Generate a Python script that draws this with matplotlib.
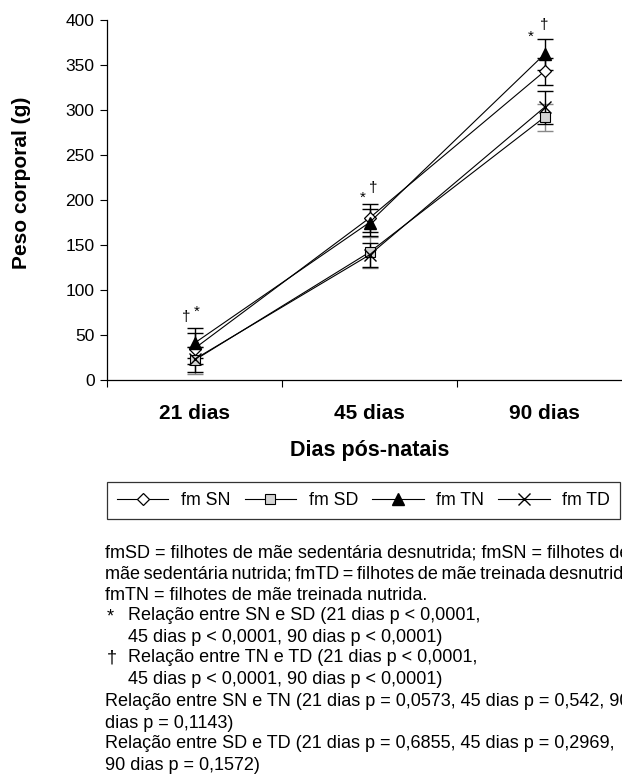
import matplotlib
matplotlib.use("Agg")
import matplotlib.pyplot as plt

plt.rcParams['font.family'] = ['Liberation Sans', 'DejaVu Sans']

# data
days = ["21 dias", "45 dias", "90 dias"]
sn_mean = [35, 180, 343]
sn_err = [17, 16, 15]
sd_mean = [22, 142, 292]
sd_err = [15, 17, 15]
tn_mean = [41, 175, 362]
tn_err = [17, 15, 17]
td_mean = [23, 139, 303]
td_err = [14, 13, 18]
series_names = ["fm SN", "fm SD", "fm TN", "fm TD"]

# significance marks (symbol, x, y)
marks = [("†", -0.05, 70), ("*", 0.01, 76),
         ("*", 0.96, 203), ("†", 1.02, 213),
         ("*", 1.92, 381), ("†", 2.0, 394)]

notes = [
    (105, 553, "fmSD = filhotes de mãe sedentária desnutrida; fmSN = filhotes de"),
    (105, 574, "mãe\u2009sedentária\u2009nutrida;\u2009fmTD\u2009=\u2009filhotes\u2009de\u2009mãe\u2009treinada\u2009desnutrida;"),
    (105, 595, "fmTN = filhotes de mãe treinada nutrida."),
    (107, 617, "*"),
    (128, 616, "Relação entre SN e SD (21 dias p < 0,0001,"),
    (128, 637, "45 dias p < 0,0001, 90 dias p < 0,0001)"),
    (107, 658, "†"),
    (128, 658, "Relação entre TN e TD (21 dias p < 0,0001,"),
    (128, 680, "45 dias p < 0,0001, 90 dias p < 0,0001)"),
    (105, 702, "Relação entre SN e TN (21 dias p = 0,0573, 45 dias p = 0,542, 90"),
    (105, 723, "dias p = 0,1143)"),
    (105, 744, "Relação entre SD e TD (21 dias p = 0,6855, 45 dias p = 0,2969,"),
    (105, 766, "90 dias p = 0,1572)"),
]

W, H = 622, 774
fig = plt.figure(figsize=(W / 100, H / 100), dpi=100)
ax = fig.add_axes([107 / W, 1 - 380 / H, (632 - 107) / W, 360 / H])

x = list(range(len(days)))

# error bars
ax.errorbar(x, sd_mean, yerr=sd_err, fmt='none', ecolor='#888888', elinewidth=1, capsize=6, capthick=1, zorder=2)
for m, e in [(sn_mean, sn_err), (tn_mean, tn_err), (td_mean, td_err)]:
    ax.errorbar(x, m, yerr=e, fmt='none', ecolor='black', elinewidth=1, capsize=6, capthick=1, zorder=2)

h1, = ax.plot(x, sn_mean, color='black', lw=0.8, marker='D', ms=6.5, mfc='white', mec='black', mew=0.9, zorder=4)
h2, = ax.plot(x, sd_mean, color='black', lw=0.8, marker='s', ms=7, mfc='#d4d4d4', mec='black', mew=0.8, zorder=3)
h3, = ax.plot(x, tn_mean, color='black', lw=0.8, marker='^', ms=8, mfc='black', mec='black', zorder=5)
h4, = ax.plot(x, td_mean, color='black', lw=0.8, marker='x', ms=8, mec='black', mew=1.0, zorder=4)

for sym, mx, my in marks:
    ax.text(mx, my, sym, ha='center', va='center', fontsize=11)

ax.set_xlim(-0.5, 2.5)
ax.set_ylim(0, 400)
ax.set_yticks(range(0, 401, 50))
ax.set_xticks([-0.5, 0.5, 1.5, 2.5])
ax.set_xticklabels([])
ax.set_xticks(x, minor=True)
ax.set_xticklabels(days, minor=True, fontsize=15, fontweight='bold')
ax.tick_params(axis='x', which='minor', length=0, pad=17)
ax.tick_params(axis='x', which='major', length=5, width=0.8, direction='out')
ax.tick_params(axis='y', length=5, width=0.8, labelsize=12.5, pad=4)
for s in ['top', 'right']:
    ax.spines[s].set_visible(False)
for s in ['left', 'bottom']:
    ax.spines[s].set_linewidth(0.9)

fig.text(290 / W, 1 - 451 / H, "Dias pós-natais", ha='left', va='center', fontsize=15.5, fontweight='bold')
fig.text(22 / W, 1 - 183 / H, "Peso corporal (g)", ha='center', va='center', rotation=90, fontsize=15, fontweight='bold')

leg = fig.legend([h1, h2, h3, h4], series_names, loc='upper left',
                 bbox_to_anchor=(107 / W, 1 - 482 / H, (620 - 107) / W, 0),
                 mode='expand', ncol=4, fontsize=12.8, frameon=True, fancybox=False,
                 edgecolor='black', handlelength=2.9, handletextpad=0.7,
                 borderpad=0.55, borderaxespad=0)
leg.get_frame().set_linewidth(0.9)

for px, py, t in notes:
    fig.text(px / W, 1 - py / H, t, ha='left', va='center', fontsize=13)

fig.savefig("out.png", dpi=100)
